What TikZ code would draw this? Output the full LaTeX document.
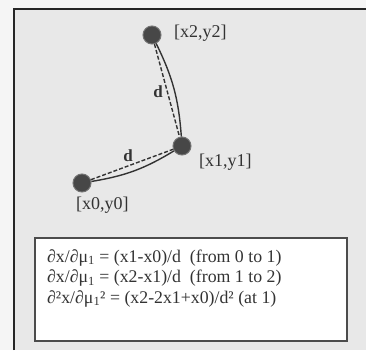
\documentclass[tikz,border=0pt]{standalone}
\usepackage{fontspec}
\setmainfont{Liberation Serif}
\begin{document}
\begin{tikzpicture}[x=1pt,y=1pt,
  pt/.style={circle,fill=black!72,draw=black!55,line width=1pt,minimum size=18pt,inner sep=0pt},
  lbl/.style={font=\fontsize{18}{19}\selectfont,text=black!80,inner sep=0pt},
  arc/.style={line width=1.4pt,black!80},
  chord/.style={line width=1.4pt,black!80,dash pattern=on 4pt off 2pt}]
 \useasboundingbox (0,0) rectangle (366,350);
 \fill[black!4] (0,0) rectangle (366,350);
 \fill[black!9] (13,0) rectangle (366,341);
 \draw[line width=2pt,black!85] (14,0) -- (14,341) -- (366,341);
 % points
 \node[pt] (x2) at (152,315) {};
 \node[pt] (x1) at (182,204) {};
 \node[pt] (x0) at (82,167) {};
 \node[lbl,anchor=west] (l2) at (174,317) {[x2,y2]};
 \node[lbl,anchor=west] (l1) at (199,188) {[x1,y1]};
 \node[lbl,anchor=west] (l0) at (76,145) {[x0,y0]};
 % segments
 \draw[chord] (x2) -- (x1);
 \draw[arc] (x2) to[bend left=11] (x1);
 \draw[chord] (x0) -- (x1);
 \draw[arc] (x0) to[bend right=11] (x1);
 \node[lbl,font=\fontsize{17}{18}\bfseries] (d2) at (158,258) {d};
 \node[lbl,font=\fontsize{17}{18}\bfseries] (d1) at (128,194) {d};
 % formulas
 \draw[line width=1.2pt,black!70,fill=white] (35,9) rectangle (347,112);
 \node[anchor=north west,align=left,inner sep=0pt,text=black!80,
   font=\fontsize{17.8}{20.5}\selectfont] (eq) at (47,101) {%
   ∂x/∂μ\textsubscript{1} = (x1-x0)/d\ \ (from 0 to 1)\\
   ∂x/∂μ\textsubscript{1} = (x2-x1)/d\ \ (from 1 to 2)\\
   ∂²x/∂μ\textsubscript{1}² = (x2-2x1+x0)/d² (at 1)};
\end{tikzpicture}
\end{document}
